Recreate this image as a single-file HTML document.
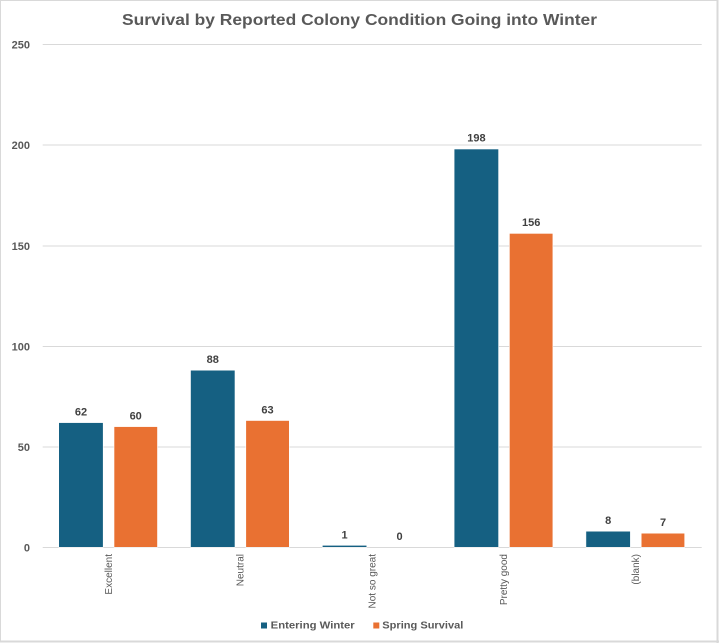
<!DOCTYPE html>
<html><head><meta charset="utf-8"><style>
html,body{margin:0;padding:0;background:#fff;}
svg{display:block;}
text{font-family:"Liberation Sans",sans-serif;}
</style></head><body>
<svg width="719" height="643" viewBox="0 0 719 643" xmlns="http://www.w3.org/2000/svg">
<rect x="0" y="0" width="719" height="643" fill="#fff"/>
<rect x="0.5" y="0.5" width="717" height="641" fill="none" stroke="#d9d9d9" stroke-width="1"/>
<line x1="717.5" y1="0" x2="717.5" y2="643" stroke="#d9d9d9" stroke-width="2"/>
<line x1="0" y1="641.5" x2="719" y2="641.5" stroke="#d9d9d9" stroke-width="2"/>
<text x="359.5" y="25" text-anchor="middle" font-size="16" font-weight="bold" fill="#595959" textLength="475" lengthAdjust="spacingAndGlyphs">Survival by Reported Colony Condition  Going into Winter</text>
<g stroke="#d9d9d9" stroke-width="1">
<line x1="42.7" y1="44.5" x2="701.7" y2="44.5"/>
<line x1="42.7" y1="145" x2="701.7" y2="145"/>
<line x1="42.7" y1="246" x2="701.7" y2="246"/>
<line x1="42.7" y1="346.5" x2="701.7" y2="346.5"/>
<line x1="42.7" y1="447" x2="701.7" y2="447"/>
<line x1="42.7" y1="547.5" x2="701.7" y2="547.5"/>
</g>
<g font-size="11" font-weight="bold" fill="#595959" text-anchor="end">
<text x="30" y="48.5">250</text>
<text x="30" y="149">200</text>
<text x="30" y="250">150</text>
<text x="30" y="350.5">100</text>
<text x="30" y="451">50</text>
<text x="30" y="551.5">0</text>
</g>
<g stroke="#ffffff" stroke-width="0.6">
<rect x="58.7" y="422.6" width="44.5" height="124.7" fill="#156082"/>
<rect x="114" y="426.6" width="43.5" height="120.7" fill="#E97132"/>
<rect x="190.5" y="370.2" width="44.5" height="177.1" fill="#156082"/>
<rect x="245.8" y="420.5" width="43.5" height="126.8" fill="#E97132"/>
<rect x="322.3" y="545.3" width="44.5" height="2" fill="#156082"/>
<rect x="454.1" y="149" width="44.5" height="398.3" fill="#156082"/>
<rect x="509.4" y="233.4" width="43.5" height="313.9" fill="#E97132"/>
<rect x="585.9" y="531.2" width="44.5" height="16.1" fill="#156082"/>
<rect x="641.2" y="533.2" width="43.5" height="14.1" fill="#E97132"/>
</g>
<g font-size="11" font-weight="bold" fill="#404040" text-anchor="middle">
<text x="81" y="415.5">62</text>
<text x="135.7" y="419.5">60</text>
<text x="212.8" y="363">88</text>
<text x="267.5" y="413.5">63</text>
<text x="344.5" y="538.5">1</text>
<text x="399.6" y="540">0</text>
<text x="476.4" y="141.5">198</text>
<text x="531.2" y="226">156</text>
<text x="608.2" y="524">8</text>
<text x="663" y="526">7</text>
</g>
<g font-size="10" fill="#595959" text-anchor="end">
<text transform="translate(111.8,554) rotate(-90)">Excellent</text>
<text transform="translate(243.6,554) rotate(-90)">Neutral</text>
<text transform="translate(375.4,554) rotate(-90)">Not so great</text>
<text transform="translate(507.2,554) rotate(-90)">Pretty good</text>
<text transform="translate(639,554) rotate(-90)">(blank)</text>
</g>
<rect x="261" y="622.5" width="6" height="6" fill="#156082"/>
<text x="270.7" y="628.5" font-size="10" font-weight="bold" fill="#595959" textLength="84" lengthAdjust="spacingAndGlyphs">Entering Winter</text>
<rect x="373.3" y="622.5" width="6" height="6" fill="#E97132"/>
<text x="382.3" y="628.5" font-size="10" font-weight="bold" fill="#595959" textLength="81" lengthAdjust="spacingAndGlyphs">Spring Survival</text>
</svg>
</body></html>
